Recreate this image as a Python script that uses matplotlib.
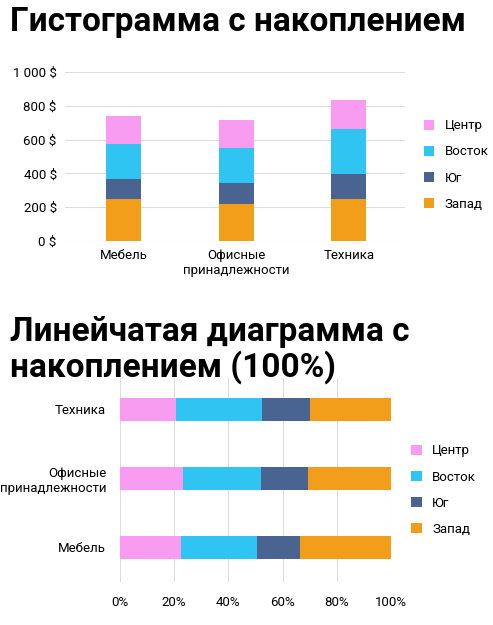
import numpy as np
import matplotlib.pyplot as plt

plt.rcParams['font.family'] = ['Roboto', 'DejaVu Sans']

categories = ['Мебель', 'Офисные\nпринадлежности', 'Техника']
series = ['Запад', 'Юг', 'Восток', 'Центр']
zapad = [248, 219, 248]
yug = [119, 124, 148]
vostok = [207, 207, 267]
centr = [166, 166, 171]
colors = {'Запад': '#F29E1B', 'Юг': '#4A6491', 'Восток': '#2FC4F2', 'Центр': '#F89CF2'}
yticks = [0, 200, 400, 600, 800, 1000]
yticklabels = ['0 $', '200 $', '400 $', '600 $', '800 $', '1 000 $']
xticks = [0, 20, 40, 60, 80, 100]

values = {'Запад': zapad, 'Юг': yug, 'Восток': vostok, 'Центр': centr}
W, H = 493, 625
fig = plt.figure(figsize=(W / 100, H / 100), dpi=100)

def box(x0, y0, x1, y1):
    return [x0 / W, 1 - y1 / H, (x1 - x0) / W, (y1 - y0) / H]

fig.text(10 / W, 1 - 22 / H, 'Гистограмма с накоплением', fontsize=24, fontweight='bold', va='center')
fig.text(10 / W, 1 - 350 / H, 'Линейчатая диаграмма с\nнакоплением (100%)', fontsize=24,
         fontweight='bold', va='center', linespacing=1.05)

# stacked columns
ax1 = fig.add_axes(box(65, 72, 405, 241))
x = np.arange(len(categories))
bottom = np.zeros(len(categories))
handles = []
for s in series:
    h = ax1.bar(x, values[s], 0.31, bottom=bottom, color=colors[s], label=s, zorder=3)
    handles.append(h)
    bottom += np.array(values[s])
ax1.set_ylim(0, 1000)
ax1.set_xlim(-0.52, 2.5)
ax1.set_yticks(yticks)
ax1.set_yticklabels(yticklabels, fontsize=9.5)
ax1.set_xticks(x)
ax1.set_xticklabels(categories, fontsize=9.5)
ax1.grid(axis='y', color='#dddddd', zorder=0)
ax1.tick_params(length=0, pad=6)
for sp in ax1.spines.values():
    sp.set_visible(False)
ax1.legend(handles[::-1], series[::-1], loc='center left', bbox_to_anchor=(1.02, 0.45),
           frameon=False, fontsize=9.5, handlelength=0.8, handleheight=0.8, labelspacing=1.0)

# 100% stacked bars
ax2 = fig.add_axes(box(120, 378, 391, 582))
order = [2, 1, 0]
tot = np.array(zapad) + np.array(yug) + np.array(vostok) + np.array(centr)
left = np.zeros(3)
hs = []
for s in ['Центр', 'Восток', 'Юг', 'Запад']:
    p = np.array(values[s]) / tot * 100
    p = p[order]
    h = ax2.barh(np.arange(3), p, 0.33, left=left, color=colors[s], label=s, zorder=3)
    hs.append(h)
    left += p
ax2.set_xlim(0, 100)
ax2.set_ylim(2.5, -0.45)
ax2.set_yticks(np.arange(3))
ax2.set_yticklabels([categories[i] for i in order], fontsize=9.5)
ax2.set_xticks(xticks)
ax2.set_xticklabels([f'{t}%' for t in xticks], fontsize=9.5)
ax2.grid(axis='x', color='#dddddd', zorder=0)
ax2.tick_params(length=0, pad=10)
for sp in ax2.spines.values():
    sp.set_visible(False)
ax2.legend(hs, ['Центр', 'Восток', 'Юг', 'Запад'], loc='center left', bbox_to_anchor=(1.03, 0.45),
           frameon=False, fontsize=9.5, handlelength=0.8, handleheight=0.8, labelspacing=1.0)

fig.savefig('out.png', dpi=100)
